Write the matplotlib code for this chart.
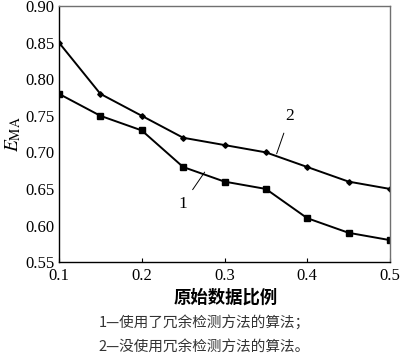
import matplotlib.pyplot as plt

ratio = [0.1, 0.15, 0.2, 0.25, 0.3, 0.35, 0.4, 0.45, 0.5]
with_check = [0.78, 0.75, 0.73, 0.68, 0.66, 0.65, 0.61, 0.59, 0.58]
without_check = [0.85, 0.78, 0.75, 0.72, 0.71, 0.70, 0.68, 0.66, 0.65]
xticks = [0.1, 0.2, 0.3, 0.4, 0.5]
yticks = [0.55, 0.60, 0.65, 0.70, 0.75, 0.80, 0.85, 0.90]

serif = ['Liberation Serif', 'DejaVu Serif']
cjk = ['Noto Sans CJK SC', 'DejaVu Sans']
plt.rcParams['mathtext.fontset'] = 'stix'

fig = plt.figure(figsize=(4.0, 3.59), dpi=100)
ax = fig.add_axes([0.1475, 0.27, 0.8275, 0.713])

ax.plot(ratio, with_check, color='black', lw=1.4, marker='s', ms=4.5)
ax.plot(ratio, without_check, color='black', lw=1.4, marker='D', ms=2.8)

ax.set_xlim(0.1, 0.5)
ax.set_ylim(0.55, 0.90)
ax.set_xticks(xticks)
ax.set_yticks(yticks)
ax.set_xticklabels(['0.1', '0.2', '0.3', '0.4', '0.5'], family=serif, fontsize=12)
ax.set_yticklabels([f'{v:.2f}' for v in yticks], family=serif, fontsize=12)
ax.tick_params(axis='x', direction='in', length=3, width=0.8, pad=4)
ax.tick_params(axis='y', direction='in', length=0, pad=3)
for s in ['top', 'right']:
    ax.spines[s].set_color('#707070')
for s in ax.spines.values():
    s.set_linewidth(1.0)

ax.set_ylabel(r'$E_{\mathrm{MA}}$', fontsize=14, labelpad=2)

# curve labels with leader lines
ax.annotate('1', xy=(0.276, 0.673), xytext=(0.25, 0.630), family=serif, fontsize=12.5,
            ha='center', va='center',
            arrowprops=dict(arrowstyle='-', color='black', lw=0.7, shrinkA=3, shrinkB=0))
ax.annotate('2', xy=(0.363, 0.698), xytext=(0.379, 0.750), family=serif, fontsize=12.5,
            ha='center', va='center',
            arrowprops=dict(arrowstyle='-', color='black', lw=0.7, shrinkA=5, shrinkB=0))

fig.text(0.565, 0.170, '原始数据比例', family=cjk, fontsize=12.5, fontweight='bold',
         ha='center', va='center')
fig.text(0.51, 0.103, '1—使用了冗余检测方法的算法；', family=cjk, fontsize=10.5,
         ha='center', va='center', color='#333333')
fig.text(0.51, 0.033, '2—没使用冗余检测方法的算法。', family=cjk, fontsize=10.5,
         ha='center', va='center', color='#333333')

fig.savefig('out.png', dpi=100)
